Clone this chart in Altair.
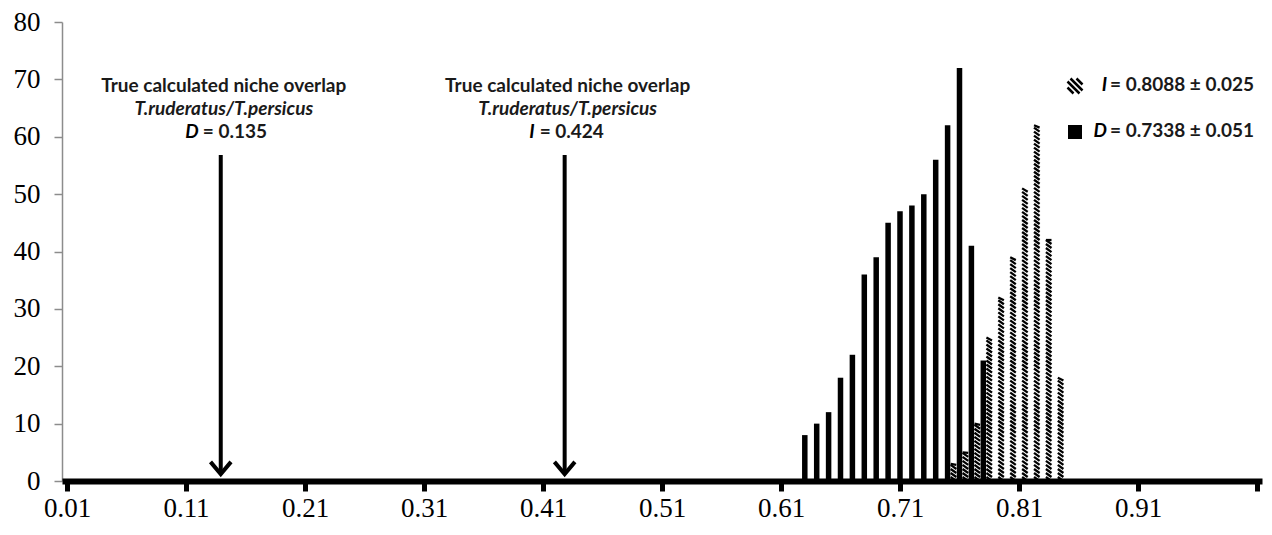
import altair as alt
import pandas as pd

# ---- data ----
d_bins = [0.63, 0.64, 0.65, 0.66, 0.67, 0.68, 0.69, 0.70, 0.71, 0.72, 0.73, 0.74, 0.75, 0.76, 0.77, 0.78]
d_counts = [8, 10, 12, 18, 22, 36, 39, 45, 47, 48, 50, 56, 62, 72, 41, 21]
i_bins = [0.76, 0.77, 0.78, 0.79, 0.80, 0.81, 0.82, 0.83, 0.84, 0.85]
i_counts = [3, 5, 10, 25, 32, 39, 51, 62, 42, 18]
x_ticks = [0.01, 0.11, 0.21, 0.31, 0.41, 0.51, 0.61, 0.71, 0.81, 0.91, 1.01]
y_ticks = [0, 10, 20, 30, 40, 50, 60, 70, 80]
true_values = [0.135, 0.424]
true_symbols = ["D", "I"]
true_labels = ["= 0.135", "= 0.424"]
legend_symbols = ["I", "D"]
legend_labels = ["= 0.8088 \u00b1 0.025", "= 0.7338 \u00b1 0.051"]

SANS = "Lato"
SERIF = "Liberation Serif"

df_d = pd.DataFrame({"bin": d_bins, "count": d_counts})
df_i = pd.DataFrame({"bin": i_bins, "count": i_counts})

xscale = alt.Scale(domain=[0.01, 1.01], nice=False, zero=False)
yscale = alt.Scale(domain=[0, 80], nice=False)

x_axis = alt.Axis(
    values=x_ticks,
    labelExpr="datum.value > 1 ? '' : format(datum.value, '.2f')",
    title=None, grid=False,
    domainColor="black", domainWidth=6,
    tickColor="black", tickWidth=5, tickSize=10,
    labelFont=SERIF, labelFontSize=27, labelColor="black",
    labelPadding=4, labelFlush=False, labelOverlap=False, zindex=1,
)
y_axis = alt.Axis(
    values=y_ticks, title=None, grid=False,
    domainColor="#8c8c8c", domainWidth=1.5,
    tickColor="#8c8c8c", tickWidth=1.5, tickSize=8,
    labelFont=SERIF, labelFontSize=27, labelColor="black",
    labelPadding=14, labelFlush=False, labelOverlap=False,
)

X = lambda f: alt.X(f, scale=xscale, axis=x_axis)
Y = lambda f: alt.Y(f, scale=yscale, axis=y_axis)

# D histogram (solid black bars)
bars_d = alt.Chart(df_d).mark_bar(color="black", width=5.5).encode(
    x=X("bin:Q"),
    y=Y("count:Q"),
)

# I histogram (hatched bars drawn as diagonal strokes stacked in each bar)
STEP = 0.7
bars_i = alt.Chart(df_i).transform_calculate(
    k=f"sequence(0, datum.count, {STEP})"
).transform_flatten(["k"]).transform_calculate(
    k2=f"min(datum.k + {STEP}, datum.count)"
).mark_rule(color="black", strokeWidth=2.3, strokeCap="butt",
            xOffset=-6 - 2.8, x2Offset=-6 + 2.8).encode(
    x=X("bin:Q"),
    x2="bin:Q",
    y=Y("k2:Q"),
    y2="k:Q",
)

# annotations (arrows + text); pixel offsets are relative to the plot area
TOP = 14
def annotation(value, sym, label, sym_dx, eq_dx):
    df = pd.DataFrame({"v": [value], "sym": [sym], "lab": [label],
                       "t1": ["True calculated niche overlap"],
                       "t2": ["T.ruderatus/T.persicus"]})
    base = alt.Chart(df)
    shaft = base.mark_rule(color="black", strokeWidth=4, xOffset=5).encode(
        x=X("v:Q"), y=alt.value(133), y2=alt.value(451))
    head = base.mark_point(
        shape="M-1,-0.6L0,0.6L1,-0.6", filled=False, color="black",
        strokeWidth=4, size=420, opacity=1, xOffset=5).encode(
        x=X("v:Q"), y=alt.value(446))
    t1 = base.mark_text(font=SANS, fontSize=19, fontWeight="bold", color="#1a1a1a",
                        align="center", baseline="middle", dx=8).encode(
        x=X("v:Q"), y=alt.value(64), text="t1:N")
    t2 = base.mark_text(font=SANS, fontSize=19, fontWeight="bold", fontStyle="italic",
                        color="#1a1a1a", align="center", baseline="middle", dx=8).encode(
        x=X("v:Q"), y=alt.value(87), text="t2:N")
    t3a = base.mark_text(font=SANS, fontSize=19, fontWeight="bold", fontStyle="italic",
                         color="black", align="right", baseline="middle", dx=sym_dx).encode(
        x=X("v:Q"), y=alt.value(110), text="sym:N")
    t3b = base.mark_text(font=SANS, fontSize=19, fontWeight="bold", color="#1a1a1a",
                         align="left", baseline="middle", dx=eq_dx).encode(
        x=X("v:Q"), y=alt.value(110), text="lab:N")
    return [shaft, head, t1, t2, t3a, t3b]

ann = annotation(true_values[0], true_symbols[0], true_labels[0], -17, -13) + \
      annotation(true_values[1], true_symbols[1], true_labels[1], -25, -20)

# manual legend
def legend_row(i, ypix, icon):
    df = pd.DataFrame({"sym": [legend_symbols[i]], "lab": [legend_labels[i]]})
    base = alt.Chart(df)
    if icon == "hatch":
        mark = base.mark_point(
            shape="M-1,0.2L-0.2,1M-1,-0.6L0.6,1M-0.6,-1L1,0.6M0.2,-1L1,-0.2",
            filled=False, color="black", strokeWidth=2.5, size=225, opacity=1)
    else:
        mark = base.mark_point(shape="square", filled=True, color="black",
                               size=196, opacity=1)
    ic = mark.encode(x=alt.value(1013), y=alt.value(ypix + 1))
    s = base.mark_text(font=SANS, fontSize=19, fontWeight="bold", fontStyle="italic",
                       color="black", align="right", baseline="middle").encode(
        x=alt.value(1045), y=alt.value(ypix), text="sym:N")
    l = base.mark_text(font=SANS, fontSize=19, fontWeight="bold", color="#1a1a1a",
                       align="left", baseline="middle").encode(
        x=alt.value(1048), y=alt.value(ypix), text="lab:N")
    return [ic, s, l]

leg = legend_row(0, 63, "hatch") + legend_row(1, 109, "solid")

chart = alt.layer(bars_d, bars_i, *ann, *leg).properties(
    width=1200, height=459,
    autosize=alt.AutoSizeParams(type="none"),
    padding={"left": 54, "top": TOP, "right": 2, "bottom": 41},
    background="white",
).configure_view(stroke=None)

chart.save("out.html", embed_options={"renderer": "svg", "actions": False})
